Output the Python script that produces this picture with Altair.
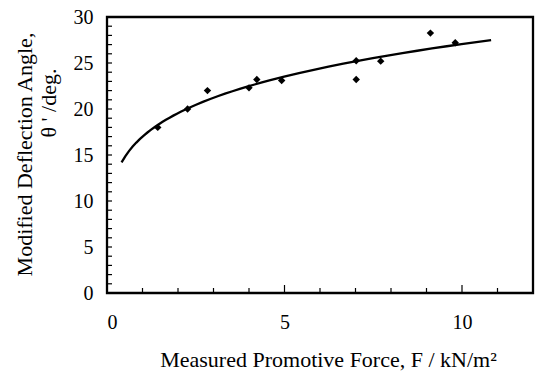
import altair as alt
import pandas as pd

# Data
force = [1.43, 2.27, 2.83, 4.00, 4.22, 4.92, 7.02, 7.02, 7.71, 9.11, 9.81]
angle = [18.0, 20.0, 22.0, 22.3, 23.2, 23.1, 25.25, 23.2, 25.2, 28.25, 27.2]
fit_extent = [0.41, 10.82]

x_minor = [1, 2, 3, 4, 6, 7, 8, 9, 11]
x_major = [5, 10]
y_ticks = list(range(1, 30))

x_title = "Measured Promotive Force, F / kN/m²"
y_title_1 = "Modified Deflection Angle,"
y_title_2 = "θ ' /deg."

FONT = "Liberation Serif"

pts = pd.DataFrame({"F": force, "theta": angle})

xs = alt.Scale(domain=[0, 12], nice=False, zero=False)
ys = alt.Scale(domain=[0, 30], nice=False, zero=False)

x_axis = alt.Axis(values=[0, 5, 10], ticks=False, domain=False, grid=False,
                  labelFont=FONT, labelFontSize=20, labelColor="black",
                  labelPadding=19, title=x_title, titleFont=FONT,
                  titleFontSize=22, titleFontWeight="normal", titleColor="black",
                  titlePadding=17, titleX=221)
y_axis = alt.Axis(values=[0, 5, 10, 15, 20, 25, 30], ticks=False, domain=False,
                  grid=False, labelFont=FONT, labelFontSize=20,
                  labelColor="black", labelPadding=14, title=y_title_1,
                  titleFont=FONT, titleFontSize=22, titleFontWeight="normal",
                  titleColor="black", titleX=-83, titleY=137,
                  titleAlign="center", titleBaseline="middle")

points = alt.Chart(pts).mark_point(shape="diamond", filled=True, color="black",
                                   size=55, opacity=1).encode(
    x=alt.X("F:Q", scale=xs, axis=x_axis),
    y=alt.Y("theta:Q", scale=ys, axis=y_axis),
)

curve = alt.Chart(pts).transform_regression(
    "F", "theta", method="pow", extent=fit_extent
).mark_line(color="black", strokeWidth=2.3).encode(
    x=alt.X("F:Q", scale=xs),
    y=alt.Y("theta:Q", scale=ys),
)

xt_minor = alt.Chart(pd.DataFrame({"F": x_minor})).mark_rule(
    color="black", strokeWidth=1.2).encode(
    x=alt.X("F:Q", scale=xs), y=alt.value(276), y2=alt.value(271))
xt_major = alt.Chart(pd.DataFrame({"F": x_major})).mark_rule(
    color="black", strokeWidth=1.2).encode(
    x=alt.X("F:Q", scale=xs), y=alt.value(276), y2=alt.value(268))
yt = alt.Chart(pd.DataFrame({"theta": y_ticks})).mark_rule(
    color="black", strokeWidth=1.2).encode(
    y=alt.Y("theta:Q", scale=ys), x=alt.value(0), x2=alt.value(5))

title2 = alt.Chart(pd.DataFrame({"t": [y_title_2]})).mark_text(
    font=FONT, fontSize=22, color="black", angle=270,
    align="center", baseline="middle").encode(
    text="t:N", x=alt.value(-58), y=alt.value(86))

chart = alt.layer(curve, points, xt_minor, xt_major, yt, title2).properties(
    width=426, height=276,
    padding={"left": 107, "top": 17, "right": 6, "bottom": 78},
    autosize="none",
    background="white",
).configure_view(stroke="black", strokeWidth=2.3)

chart.save("out.html", embed_options={"renderer": "svg", "actions": False})
